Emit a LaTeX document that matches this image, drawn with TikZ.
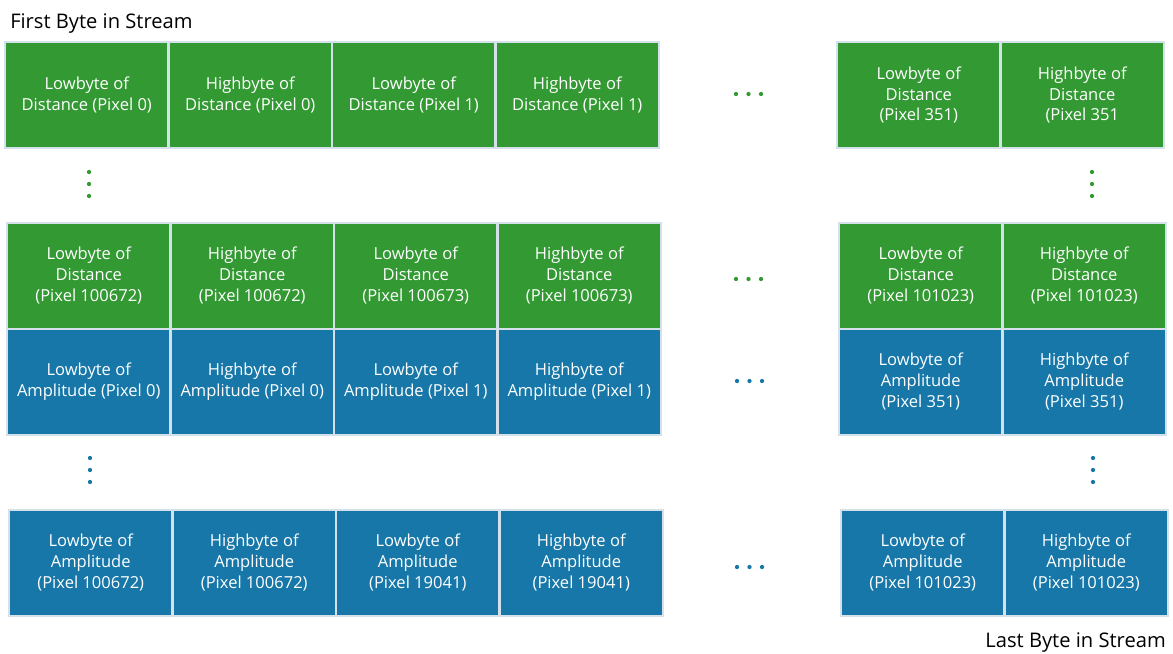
\documentclass[tikz,border=0pt]{standalone}
\usepackage{fontspec}
\setmainfont{Open Sans}
\definecolor{cgreen}{RGB}{51,153,51}
\definecolor{cblue}{RGB}{23,119,168}
\definecolor{cborder}{RGB}{213,225,234}
\tikzset{
  cell/.style={draw=cborder, line width=1.5pt, minimum width=122.6pt, minimum height=79.5pt,
    inner sep=0pt, align=center, text=white, font=\fontsize{12.4}{15.6}\selectfont},
  gcell/.style={cell, fill=cgreen},
  bcell/.style={cell, fill=cblue},
  gdot/.style={circle, fill=cgreen, inner sep=0pt, minimum size=3.2pt},
  bdot/.style={circle, fill=cblue, inner sep=0pt, minimum size=3.2pt},
  lbl/.style={inner sep=0pt, font=\fontsize{15.1}{18}\selectfont, text=black}
}
\begin{document}
\begin{tikzpicture}[x=0.75pt, y=-0.75pt]
\useasboundingbox (0,0) rectangle (1173,653);
% labels
\node[lbl, anchor=base west] (first) at (10,28) {First Byte in Stream};
\node[lbl, anchor=base east] (last) at (1166,647) {Last Byte in Stream};
% row 1
\node[gcell] (r1c1) at (86.75,95) {Lowbyte of\\Distance (Pixel 0)};
\node[gcell] (r1c2) at (250.25,95) {Highbyte of\\Distance (Pixel 0)};
\node[gcell] (r1c3) at (413.75,95) {Lowbyte of\\Distance (Pixel 1)};
\node[gcell] (r1c4) at (577.25,95) {Highbyte of\\Distance (Pixel 1)};
\node[gcell] (r1c5) at (918.75,95) {Lowbyte of\\Distance\\(Pixel 351)};
\node[gcell] (r1c6) at (1082.25,95) {Highbyte of\\Distance\\(Pixel 351};
% row 2
\node[gcell] (r2c1) at (88.75,275.5) {Lowbyte of\\Distance\\(Pixel 100672)};
\node[gcell] (r2c2) at (252.25,275.5) {Highbyte of\\Distance\\(Pixel 100672)};
\node[gcell] (r2c3) at (415.75,275.5) {Lowbyte of\\Distance\\(Pixel 100673)};
\node[gcell] (r2c4) at (579.25,275.5) {Highbyte of\\Distance\\(Pixel 100673)};
\node[gcell] (r2c5) at (920.75,275.5) {Lowbyte of\\Distance\\(Pixel 101023)};
\node[gcell] (r2c6) at (1084.25,275.5) {Highbyte of\\Distance\\(Pixel 101023)};
% row 3
\node[bcell] (r3c1) at (88.75,381.5) {Lowbyte of\\Amplitude (Pixel 0)};
\node[bcell] (r3c2) at (252.25,381.5) {Highbyte of\\Amplitude (Pixel 0)};
\node[bcell] (r3c3) at (415.75,381.5) {Lowbyte of\\Amplitude (Pixel 1)};
\node[bcell] (r3c4) at (579.25,381.5) {Highbyte of\\Amplitude (Pixel 1)};
\node[bcell] (r3c5) at (920.75,381.5) {Lowbyte of\\Amplitude\\(Pixel 351)};
\node[bcell] (r3c6) at (1084.25,381.5) {Highbyte of\\Amplitude\\(Pixel 351)};
% row 4
\node[bcell] (r4c1) at (90.75,562.5) {Lowbyte of\\Amplitude\\(Pixel 100672)};
\node[bcell] (r4c2) at (254.25,562.5) {Highbyte of\\Amplitude\\(Pixel 100672)};
\node[bcell] (r4c3) at (417.75,562.5) {Lowbyte of\\Amplitude\\(Pixel 19041)};
\node[bcell] (r4c4) at (581.25,562.5) {Highbyte of\\Amplitude\\(Pixel 19041)};
\node[bcell] (r4c5) at (922.75,562.5) {Lowbyte of\\Amplitude\\(Pixel 101023)};
\node[bcell] (r4c6) at (1086.25,562.5) {Highbyte of\\Amplitude\\(Pixel 101023)};
% horizontal ellipses
\node[gdot] (h1a) at (736,94) {};
\node[gdot] (h1b) at (748.5,94) {};
\node[gdot] (h1c) at (761,94) {};
\node[gdot] (h2a) at (736,279) {};
\node[gdot] (h2b) at (748.5,279) {};
\node[gdot] (h2c) at (761,279) {};
\node[bdot] (h3a) at (737,381) {};
\node[bdot] (h3b) at (749.5,381) {};
\node[bdot] (h3c) at (762,381) {};
\node[bdot] (h4a) at (737,567) {};
\node[bdot] (h4b) at (749.5,567) {};
\node[bdot] (h4c) at (762,567) {};
% vertical ellipses
\node[gdot] (v1a) at (89,172) {};
\node[gdot] (v1b) at (89,184) {};
\node[gdot] (v1c) at (89,196) {};
\node[gdot] (v2a) at (1092,172) {};
\node[gdot] (v2b) at (1092,184) {};
\node[gdot] (v2c) at (1092,196) {};
\node[bdot] (v3a) at (90,458) {};
\node[bdot] (v3b) at (90,470) {};
\node[bdot] (v3c) at (90,482) {};
\node[bdot] (v4a) at (1093,458) {};
\node[bdot] (v4b) at (1093,470) {};
\node[bdot] (v4c) at (1093,482) {};
\end{tikzpicture}
\end{document}
